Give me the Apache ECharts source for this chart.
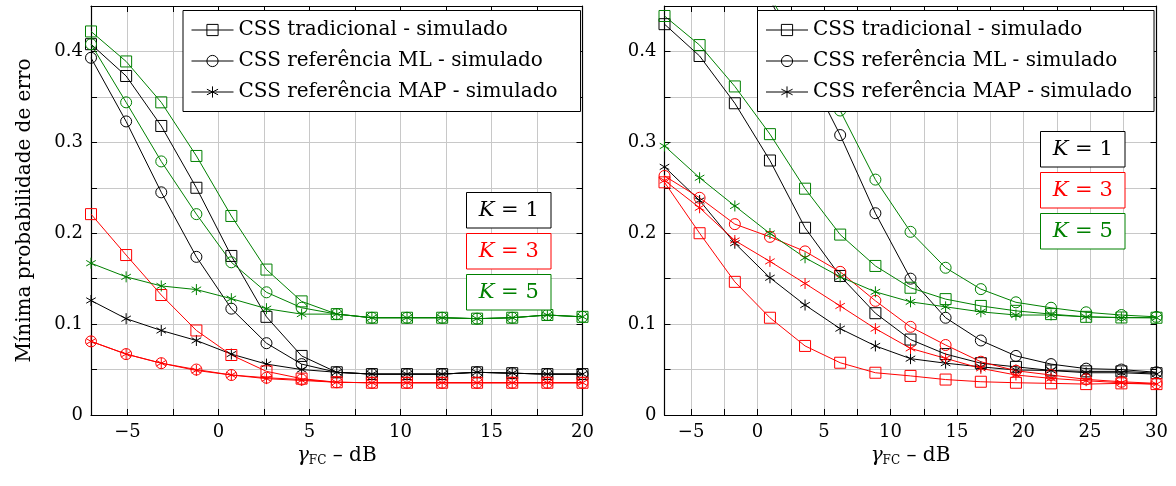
<!DOCTYPE html>
<html><head><meta charset="utf-8">
<script src="https://cdn.jsdelivr.net/npm/echarts@6/dist/echarts.min.js"></script>
<style>html,body{margin:0;padding:0;background:#fff}#c{width:1176px;height:486px}</style>
</head><body><div id="c"></div>
<script>
// ---------- data ----------
const xLeft  = [-7, -5.07, -3.14, -1.21, 0.71, 2.64, 4.57, 6.5, 8.43, 10.36, 12.29, 14.21, 16.14, 18.07, 20];
const xRight = [-7, -4.36, -1.71, 0.93, 3.57, 6.21, 8.86, 11.5, 14.14, 16.79, 19.43, 22.07, 24.71, 27.36, 30];

const legendNames = ['CSS tradicional - simulado', 'CSS referência ML - simulado', 'CSS referência MAP - simulado'];
const kLabels = ['1', '3', '5'];

// left panel
const k1TradL = [0.408, 0.373, 0.318, 0.250, 0.175, 0.108, 0.065, 0.047, 0.045, 0.045, 0.045, 0.047, 0.046, 0.045, 0.045];
const k1MLL   = [0.393, 0.323, 0.245, 0.174, 0.117, 0.079, 0.056, 0.047, 0.045, 0.045, 0.045, 0.047, 0.046, 0.045, 0.045];
const k1MAPL  = [0.126, 0.106, 0.093, 0.082, 0.067, 0.056, 0.050, 0.047, 0.045, 0.045, 0.045, 0.047, 0.046, 0.045, 0.045];
const k3TradL = [0.221, 0.176, 0.132, 0.093, 0.066, 0.048, 0.040, 0.036, 0.0355, 0.0355, 0.0355, 0.0355, 0.0355, 0.0355, 0.0355];
const k3MLL   = [0.081, 0.067, 0.057, 0.050, 0.044, 0.041, 0.039, 0.036, 0.0355, 0.0355, 0.0355, 0.0355, 0.0355, 0.0355, 0.0355];
const k3MAPL  = [0.081, 0.067, 0.057, 0.049, 0.044, 0.040, 0.038, 0.036, 0.0355, 0.0355, 0.0355, 0.0355, 0.0355, 0.0355, 0.0355];
const k5TradL = [0.422, 0.389, 0.344, 0.285, 0.219, 0.160, 0.125, 0.111, 0.107, 0.107, 0.107, 0.106, 0.107, 0.110, 0.108];
const k5MLL   = [0.408, 0.344, 0.279, 0.221, 0.168, 0.135, 0.118, 0.111, 0.107, 0.107, 0.107, 0.106, 0.107, 0.110, 0.108];
const k5MAPL  = [0.167, 0.152, 0.142, 0.138, 0.128, 0.117, 0.111, 0.111, 0.107, 0.107, 0.107, 0.106, 0.107, 0.110, 0.108];

// right panel
const k1TradR = [0.430, 0.395, 0.343, 0.280, 0.206, 0.153, 0.112, 0.083, 0.067, 0.057, 0.053, 0.049, 0.048, 0.048, 0.046];
const k1MLR   = [0.680, 0.610, 0.535, 0.457, 0.384, 0.308, 0.222, 0.150, 0.107, 0.082, 0.065, 0.056, 0.051, 0.050, 0.047];
const k1MAPR  = [0.273, 0.236, 0.189, 0.151, 0.121, 0.095, 0.076, 0.062, 0.057, 0.053, 0.0495, 0.049, 0.0465, 0.0465, 0.045];
const k3TradR = [0.256, 0.200, 0.1465, 0.107, 0.076, 0.0575, 0.0465, 0.043, 0.039, 0.0366, 0.0355, 0.0348, 0.034, 0.0348, 0.034];
const k3MLR   = [0.263, 0.239, 0.210, 0.196, 0.180, 0.1575, 0.1256, 0.097, 0.077, 0.0586, 0.0487, 0.044, 0.0392, 0.0366, 0.0348];
const k3MAPR  = [0.258, 0.228, 0.192, 0.169, 0.1447, 0.120, 0.095, 0.0733, 0.0623, 0.0513, 0.044, 0.0403, 0.0377, 0.0355, 0.034];
const k5TradR = [0.439, 0.407, 0.3615, 0.309, 0.249, 0.1985, 0.164, 0.140, 0.1275, 0.120, 0.1146, 0.111, 0.108, 0.1073, 0.107];
const k5MLR   = [0.660, 0.600, 0.530, 0.460, 0.397, 0.335, 0.259, 0.2015, 0.162, 0.1385, 0.124, 0.118, 0.113, 0.110, 0.108];
const k5MAPR  = [0.296, 0.261, 0.230, 0.1997, 0.173, 0.152, 0.1355, 0.1245, 0.119, 0.1135, 0.110, 0.110, 0.108, 0.107, 0.107];

const xTicksL  = [-5, -2.5, 0, 2.5, 5, 7.5, 10, 12.5, 15, 17.5, 20];
const xLabelsL = [-5, 0, 5, 10, 15, 20];
const xTicksR  = [-5, -2.5, 0, 2.5, 5, 7.5, 10, 12.5, 15, 17.5, 20, 22.5, 25, 27.5, 30];
const xLabelsR = [-5, 0, 5, 10, 15, 20, 25, 30];

// ---------- style ----------
const FONT = 'DejaVu Serif';
const COL = { k1: '#000000', k3: '#ff0000', k5: '#008000' };
const STAR = 'path://M0,-10L0,10M-8.66,-5L8.66,5M-8.66,5L8.66,-5';
const SYM = { sq: 'rect', ci: 'circle', st: STAR };
const SZ = { sq: 11, ci: 11, st: 11 };
const GRIDC = '#c8c8c8';

function line(name, xs, ys, color, sym, gi) {
  return {
    type: 'line', name: name, xAxisIndex: gi * 2, yAxisIndex: gi * 2,
    data: xs.map((x, i) => [x, ys[i]]),
    symbol: SYM[sym], symbolSize: SZ[sym], symbolKeepAspect: true,
    showAllSymbol: true, clip: true, silent: true,
    lineStyle: { color: color, width: 1 },
    itemStyle: { color: 'rgba(0,0,0,0)', borderColor: color, borderWidth: 1 },
    emphasis: { disabled: true }
  };
}

const fmtX = v => (v < 0 ? '\u2212' + (-v) : String(v));
const fmtY = v => {
  const r = Math.round(v * 100);
  if (r % 10 !== 0) return '';
  return r === 0 ? '0' : (r / 100).toFixed(1);
};

function xAxes(gi, min, max, ticks, labels) {
  const nameRich = {
    g: { fontFamily: FONT, fontSize: 20, fontStyle: 'italic', color: '#000' },
    s: { fontFamily: FONT, fontSize: 12, color: '#000', padding: [10, 0, 0, 0] }
  };
  return [
    {
      type: 'value', gridIndex: gi, min: min, max: max, position: 'bottom',
      axisLine: { show: true, onZero: false, lineStyle: { color: '#000', width: 1.2 } },
      axisTick: { show: true, inside: true, length: 6, customValues: ticks, lineStyle: { color: '#000', width: 1 } },
      axisLabel: { customValues: labels, formatter: fmtX, fontFamily: FONT, fontSize: 18, color: '#000', margin: 8 },
      splitLine: { show: true, lineStyle: { color: GRIDC, width: 1 } },
      name: '{g|\u03b3}{s|FC} \u2013 dB', nameLocation: 'middle', nameGap: 26,
      nameTextStyle: { fontFamily: FONT, fontSize: 20, color: '#000', rich: nameRich }
    },
    {
      type: 'value', gridIndex: gi, min: min, max: max, position: 'top',
      axisLine: { show: true, onZero: false, lineStyle: { color: '#000', width: 1.2 } },
      axisTick: { show: true, inside: true, length: 6, customValues: ticks, lineStyle: { color: '#000', width: 1 } },
      axisLabel: { show: false },
      splitLine: { show: false }
    }
  ];
}

function yAxes(gi, withName) {
  const a = {
    type: 'value', gridIndex: gi, min: 0, max: 0.45, interval: 0.05, position: 'left',
    axisLine: { show: true, onZero: false, lineStyle: { color: '#000', width: 1.2 } },
    axisTick: { show: true, inside: true, length: 6, lineStyle: { color: '#000', width: 1 } },
    axisLabel: { formatter: fmtY, fontFamily: FONT, fontSize: 18, color: '#000', margin: 8, showMaxLabel: false },
    splitLine: { show: true, lineStyle: { color: GRIDC, width: 1 } }
  };
  if (withName) {
    a.name = 'Mínima probabilidade de erro';
    a.nameLocation = 'middle';
    a.nameRotate = 90;
    a.nameGap = 56;
    a.nameTextStyle = { fontFamily: FONT, fontSize: 20, color: '#000' };
  }
  return [a, {
    type: 'value', gridIndex: gi, min: 0, max: 0.45, interval: 0.05, position: 'right',
    axisLine: { show: true, onZero: false, lineStyle: { color: '#000', width: 1.2 } },
    axisTick: { show: true, inside: true, length: 6, lineStyle: { color: '#000', width: 1 } },
    axisLabel: { show: false },
    splitLine: { show: false }
  }];
}

function legendAt(left, padRight) {
  return {
    data: legendNames, orient: 'vertical', left: left, top: 10.5,
    padding: [9, padRight, 9, 8], itemWidth: 42, itemHeight: 14, itemGap: 10,
    backgroundColor: '#fff', borderColor: '#000', borderWidth: 1, borderRadius: 0,
    textStyle: { fontFamily: FONT, fontSize: 20, color: '#000', lineHeight: 21 },
    itemStyle: { borderWidth: 1 }, lineStyle: { width: 1 },
    selectedMode: false, z: 10
  };
}

function kBoxes(x, tops) {
  const cols = [COL.k1, COL.k3, COL.k5];
  const els = [];
  tops.forEach((t, i) => {
    els.push({
      type: 'rect', z: 20, silent: true,
      shape: { x: x, y: t, width: 84.5, height: 35.5 },
      style: { fill: '#fff', stroke: cols[i], lineWidth: 1 }
    });
    els.push({
      type: 'text', z: 21, silent: true, x: x + 42.25, y: t + 18.5,
      style: {
        text: '{k|K} = ' + kLabels[i], fill: cols[i], align: 'center', verticalAlign: 'middle',
        fontFamily: FONT, fontSize: 21,
        rich: { k: { fontFamily: FONT, fontSize: 21, fontStyle: 'italic', fill: cols[i] } }
      }
    });
  });
  return els;
}

const series = [
  line('k1-trad-L', xLeft, k1TradL, COL.k1, 'sq', 0),
  line('k1-ml-L',   xLeft, k1MLL,   COL.k1, 'ci', 0),
  line('k1-map-L',  xLeft, k1MAPL,  COL.k1, 'st', 0),
  line('k3-trad-L', xLeft, k3TradL, COL.k3, 'sq', 0),
  line('k3-ml-L',   xLeft, k3MLL,   COL.k3, 'ci', 0),
  line('k3-map-L',  xLeft, k3MAPL,  COL.k3, 'st', 0),
  line('k5-trad-L', xLeft, k5TradL, COL.k5, 'sq', 0),
  line('k5-ml-L',   xLeft, k5MLL,   COL.k5, 'ci', 0),
  line('k5-map-L',  xLeft, k5MAPL,  COL.k5, 'st', 0),
  line('k1-trad-R', xRight, k1TradR, COL.k1, 'sq', 1),
  line('k1-ml-R',   xRight, k1MLR,   COL.k1, 'ci', 1),
  line('k1-map-R',  xRight, k1MAPR,  COL.k1, 'st', 1),
  line('k3-trad-R', xRight, k3TradR, COL.k3, 'sq', 1),
  line('k3-ml-R',   xRight, k3MLR,   COL.k3, 'ci', 1),
  line('k3-map-R',  xRight, k3MAPR,  COL.k3, 'st', 1),
  line('k5-trad-R', xRight, k5TradR, COL.k5, 'sq', 1),
  line('k5-ml-R',   xRight, k5MLR,   COL.k5, 'ci', 1),
  line('k5-map-R',  xRight, k5MAPR,  COL.k5, 'st', 1),
  line(legendNames[0], [], [], '#000', 'sq', 0),
  line(legendNames[1], [], [], '#000', 'ci', 0),
  line(legendNames[2], [], [], '#000', 'st', 0)
];

const option = {
  animation: false,
  backgroundColor: '#fff',
  grid: [
    { left: 91, top: 6, width: 491.5, height: 409, outerBoundsMode: 'none' },
    { left: 664.5, top: 6, width: 492, height: 409, outerBoundsMode: 'none' }
  ],
  xAxis: [].concat(xAxes(0, -7, 20, xTicksL, xLabelsL), xAxes(1, -7, 30, xTicksR, xLabelsR)),
  yAxis: [].concat(yAxes(0, true), yAxes(1, false)),
  legend: [legendAt(183, 23), legendAt(757.5, 22)],
  graphic: [].concat(kBoxes(466.5, [192.5, 233.5, 274.5]), kBoxes(1040.5, [131.5, 172.5, 213.5])),
  series: series
};

const chart = echarts.init(document.getElementById('c'));
chart.setOption(option);
</script>
</body></html>
